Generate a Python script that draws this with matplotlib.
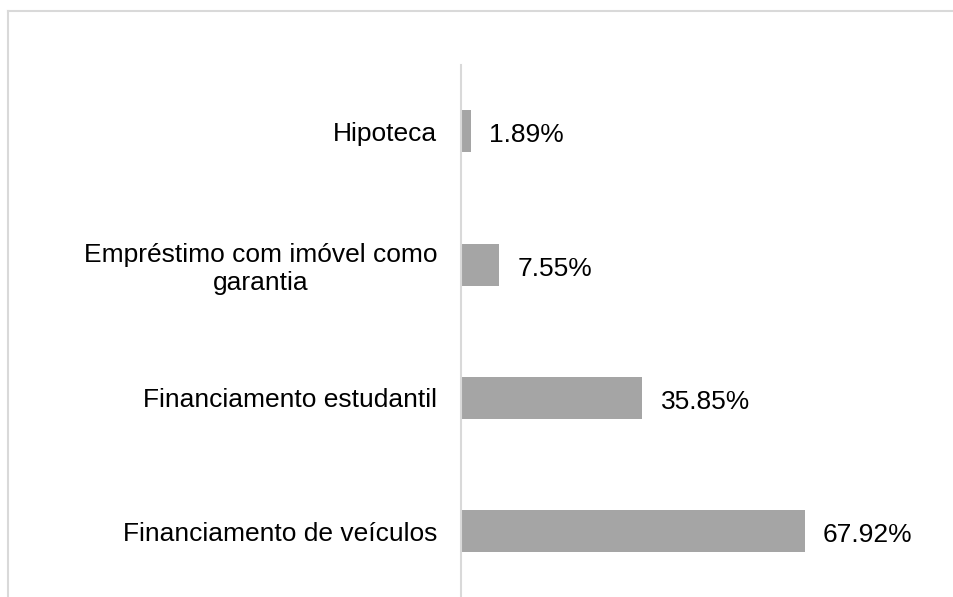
import matplotlib
matplotlib.use("Agg")
import matplotlib.pyplot as plt
from matplotlib.lines import Line2D

categories = ["Hipoteca", "Empréstimo com imóvel como\ngarantia",
              "Financiamento estudantil", "Financiamento de veículos"]
values = [1.89, 7.55, 35.85, 67.92]
labels = ["1.89%", "7.55%", "35.85%", "67.92%"]

plt.rcParams['font.family'] = ['Liberation Sans', 'DejaVu Sans']

W, H = 954, 597
fig = plt.figure(figsize=(W / 100, H / 100), dpi=100)

# figure border (top and left visible)
border_c = "#D9D9D9"
fig.add_artist(Line2D([8 / W, 1.0], [1 - 10.5 / H, 1 - 10.5 / H], color=border_c, lw=1.5, transform=fig.transFigure))
fig.add_artist(Line2D([8 / W, 8 / W], [1 - 10.5 / H, 0.0], color=border_c, lw=1.5, transform=fig.transFigure))

ax_left, ax_top, ax_bottom = 461, 64.5, 598
ax_w = 405
ax = fig.add_axes([ax_left / W, (H - ax_bottom) / H, ax_w / W, (ax_bottom - ax_top) / H])

fs = 19
ypos = list(range(len(categories)))
ax.barh(ypos, values, height=0.315, color="#A5A5A5")
ax.set_xlim(0, 80)
ax.set_ylim(len(categories) - 0.5, -0.5)

for y, v, lab in zip(ypos, values, labels):
    ax.annotate(lab, (v, y), xytext=(13, -3), textcoords="offset points",
                ha="left", va="center", fontsize=fs, color="#000000")

ax.set_yticks(ypos)
ax.set_yticklabels(categories, fontsize=fs, multialignment="center", linespacing=1.2)
ax.tick_params(axis="y", length=0, pad=17)
ax.set_xticks([])
for s in ["top", "right", "bottom"]:
    ax.spines[s].set_visible(False)
ax.spines["left"].set_color("#D9D9D9")
ax.spines["left"].set_linewidth(1.5)
ax.set_facecolor("none")

fig.savefig("out.png", dpi=100)
